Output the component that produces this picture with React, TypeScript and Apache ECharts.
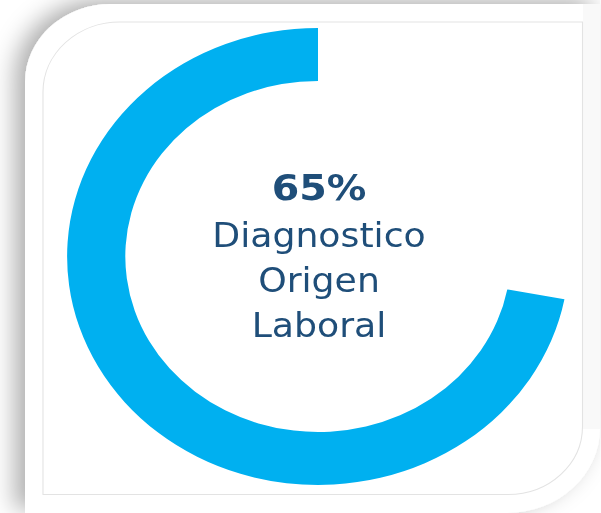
import React, { useEffect, useRef } from "react";
import * as echarts from "echarts";

// Horizontal stretch of the whole picture (ring is an ellipse in the reference)
const SX = 1.098;
const W = 601;
const H = 513;

const categories = ["Diagnostico Origen Laboral", "Resto"];
const values = [72, 28];
const percentLabel = "65%";
const labelLines = ["Diagnostico", "Origen", "Laboral"];

const RING = "#00B0F0";
const TEXT = "#1F4E79";

export default function App() {
  const ref = useRef<HTMLDivElement>(null);
  useEffect(() => {
    const chart = echarts.init(ref.current!, null, { renderer: "svg" });
    const sx = (x: number) => x / SX;
    const cx = sx(319);
    chart.setOption({
      animation: false,
      graphic: [
        {
          type: "rect",
          z: 0,
          shape: { x: sx(25), y: 4, width: sx(600 - 25), height: 513 - 4, r: [78, 0, 85, 0] },
          style: {
            fill: "#ffffff",
            shadowBlur: 22,
            shadowColor: "rgba(0,0,0,0.32)",
            shadowOffsetX: -9,
            shadowOffsetY: -4,
          },
        },
        {
          type: "rect",
          z: 1,
          shape: { x: sx(583), y: 4, width: sx(17), height: 425 },
          style: { fill: "#f9f9f9" },
        },
        {
          type: "rect",
          z: 2,
          shape: { x: sx(43), y: 22, width: sx(582.5 - 43), height: 494.5 - 22, r: [70, 0, 68, 0] },
          style: { fill: "#ffffff", stroke: "#e3e3e3", lineWidth: 1 },
        },
        {
          type: "text",
          z: 100,
          x: cx,
          y: 187.5,
          style: {
            text: percentLabel,
            fill: TEXT,
            font: "bold 36px 'DejaVu Sans'",
            align: "center",
            verticalAlign: "middle",
          },
        },
        ...labelLines.map((t, i) => ({
          type: "text",
          z: 100,
          x: cx,
          y: 235.5 + i * 45,
          style: {
            text: t,
            fill: TEXT,
            font: "33px 'DejaVu Sans'",
            align: "center",
            verticalAlign: "middle",
          },
        })),
      ],
      series: [
        {
          type: "pie",
          z: 10,
          center: [sx(318), 256.5],
          radius: [175.5, 228.5],
          startAngle: 90,
          clockwise: false,
          silent: true,
          label: { show: false },
          labelLine: { show: false },
          emphasis: { disabled: true },
          data: categories.map((name, i) => ({
            name,
            value: values[i],
            itemStyle: { color: i === 0 ? RING : "rgba(0,0,0,0)" },
          })),
        },
      ],
    });
    return () => chart.dispose();
  }, []);
  return (
    <div
      style={{
        position: "fixed",
        left: 0,
        top: 0,
        width: W,
        height: H,
        overflow: "hidden",
        background: "#ffffff",
      }}
    >
      <div
        ref={ref}
        style={{
          width: W / SX,
          height: H,
          transform: `scaleX(${SX})`,
          transformOrigin: "0 0",
        }}
      />
    </div>
  );
}
